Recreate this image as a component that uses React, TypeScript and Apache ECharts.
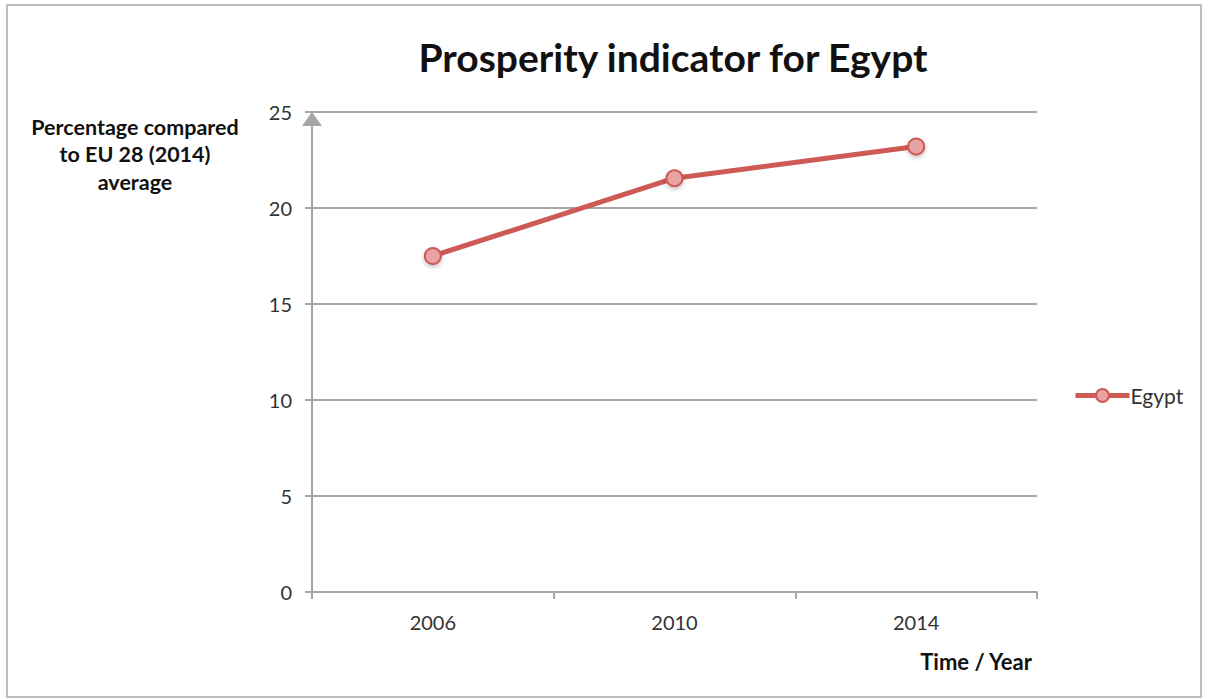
import React, { useEffect, useRef } from "react";
import * as echarts from "echarts";

const categories = ["2006", "2010", "2014"];
const egyptValues = [17.5, 21.55, 23.2];
const yTicks = [0, 5, 10, 15, 20, 25];
const titleText = "Prosperity indicator for Egypt";
const yAxisName = "Percentage compared\nto EU 28 (2014)\naverage";
const xAxisName = "Time / Year";
const seriesName = "Egypt";

export default function App() {
  const ref = useRef<HTMLDivElement>(null);
  useEffect(() => {
    if (!ref.current) return;
    const chart = echarts.init(ref.current, undefined, { renderer: "svg" });
    const font = "Lato, 'Open Sans', sans-serif";
    chart.setOption({
      animation: false,
      backgroundColor: "#ffffff",
      textStyle: { fontFamily: font },
      title: {
        text: titleText,
        left: 668,
        textAlign: "center",
        top: 32,
        textStyle: { fontSize: 39, fontWeight: "bold", color: "#111", fontFamily: font },
      },
      graphic: [
        {
          type: "rect",
          shape: { x: 7, y: 5, width: 1194, height: 692 },
          style: { fill: "none", stroke: "#bdbdbd", lineWidth: 2 },
          silent: true,
        },
        {
          type: "text",
          x: 135,
          y: 113,
          style: {
            text: yAxisName,
            fontSize: 21.5,
            fontWeight: "bold",
            fill: "#111",
            align: "center",
            verticalAlign: "top",
            lineHeight: 27.5,
            fontFamily: font,
          },
        },
        {
          type: "text",
          x: 1032,
          y: 661,
          style: {
            text: xAxisName,
            fontSize: 22,
            fontWeight: "bold",
            fill: "#111",
            align: "right",
            verticalAlign: "middle",
            fontFamily: font,
          },
        },
      ],
      legend: {
        data: [seriesName],
        left: 1068,
        top: 380,
        itemWidth: 54,
        itemHeight: 16,
        itemGap: 0,
        lineStyle: { width: 5 },
        textStyle: { fontSize: 21, color: "#333", fontFamily: font, padding: [0, 0, 0, -4] },
      },
      grid: { left: 312, right: 171, top: 112, bottom: 107, containLabel: false },
      xAxis: {
        type: "category",
        data: categories,
        boundaryGap: true,
        axisLine: { lineStyle: { color: "#a6a6a6", width: 2 } },
        axisTick: { show: true, length: 7, lineStyle: { color: "#a6a6a6", width: 2 } },
        axisLabel: { fontSize: 20, color: "#333", margin: 20, fontFamily: font },
        splitLine: { show: false },
      },
      yAxis: {
        type: "value",
        min: 0,
        max: 25,
        interval: 5,
        axisLine: {
          show: true,
          symbol: ["none", "triangle"],
          symbolSize: [20, 14],
          symbolOffset: [0, -7],
          lineStyle: { color: "#a6a6a6", width: 2 },
        },
        axisTick: { show: true, length: 7, lineStyle: { color: "#a6a6a6", width: 2 } },
        axisLabel: {
          fontSize: 20,
          color: "#333",
          margin: 20,
          fontFamily: font,
          formatter: (v: number) => (yTicks.includes(v) ? String(v) : ""),
        },
        splitLine: { show: true, lineStyle: { color: "#a6a6a6", width: 2 } },
      },
      series: [
        {
          name: seriesName,
          type: "line",
          data: egyptValues,
          symbol: "circle",
          symbolSize: 16,
          lineStyle: { color: "#cd5a55", width: 5 },
          itemStyle: {
            color: "#e8a4a2",
            borderColor: "#cd5a55",
            borderWidth: 2,
            shadowColor: "rgba(0,0,0,0.25)",
            shadowBlur: 4,
            shadowOffsetY: 2,
          },
        },
      ],
    });
    return () => chart.dispose();
  }, []);
  return (
    <div
      ref={ref}
      style={{ position: "fixed", left: 0, top: 0, width: 1208, height: 699 }}
    />
  );
}
